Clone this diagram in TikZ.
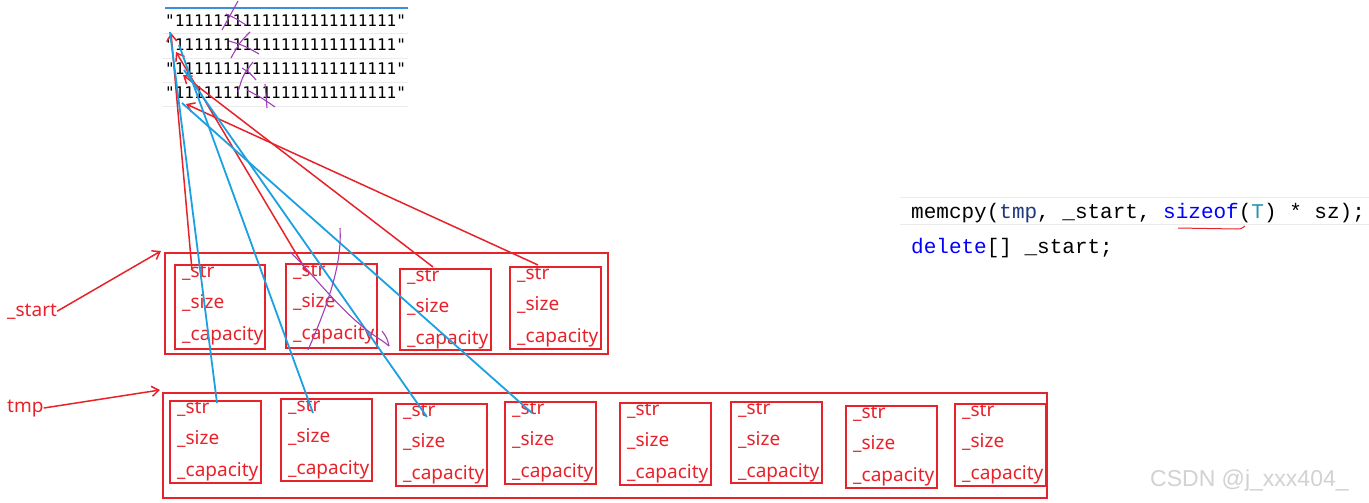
\documentclass[tikz,border=0pt]{standalone}
\usepackage{fontspec}
\setmainfont{Noto Sans}
\newfontfamily\strfont{DejaVu Sans Mono}
\newfontfamily\codefont{Liberation Mono}
\newfontfamily\wmfont{Liberation Sans}
\usetikzlibrary{arrows.meta,calc}
\definecolor{rd}{HTML}{E8222A}
\definecolor{bl}{HTML}{1BA1E2}
\definecolor{topline}{HTML}{3C8FD8}
\definecolor{pu}{HTML}{A040B8}
\definecolor{navy}{HTML}{1F377F}
\definecolor{kw}{HTML}{0000FF}
\definecolor{tc}{HTML}{2B91AF}
\definecolor{sep}{HTML}{EBEBEB}
\definecolor{wm}{HTML}{D2D2D2}
\begin{document}
\begin{tikzpicture}[x=1pt,y=-1pt,
  cellbox/.style={draw=rd, line width=1.8pt, anchor=north west, inner sep=0pt},
  outerbox/.style={draw=rd, line width=1.8pt, anchor=north west, inner sep=0pt},
  lbl/.style={text=rd, font=\fontsize{19}{19}\selectfont, anchor=base west, inner sep=0pt},
  strrow/.style={font=\strfont\fontsize{16}{16}\selectfont, anchor=base west, inner sep=0pt},
  code/.style={font=\codefont\fontsize{21}{21}\selectfont, anchor=base west, inner sep=0pt},
  redln/.style={draw=rd, line width=1.5pt, -{Straight Barb[length=7pt,width=10pt]}},
  blueln/.style={draw=bl, line width=1.8pt},
  purp/.style={draw=pu, line width=1.1pt},
  sepln/.style={draw=sep, line width=0.8pt}
]
\useasboundingbox[fill=white] (0,0) rectangle (1369,503);

% string rows
\draw[draw=topline, line width=1.2pt] (165,8) -- (408,8);
\foreach \yy in {33,58,82,106} { \draw[sepln] (163,\yy) -- (408,\yy); }
\node[strrow] (r1) at (165,27) {"11111111111111111111111"};
\node[strrow] (r2) at (165,51) {"11111111111111111111111"};
\node[strrow] (r3) at (165,75) {"11111111111111111111111"};
\node[strrow] (r4) at (165,99) {"11111111111111111111111"};

% outer boxes
\node[outerbox, minimum width=443pt, minimum height=101pt] (sa) at (164,252) {};
\node[outerbox, minimum width=884pt, minimum height=105pt] (ta) at (162,392) {};

% cells
\foreach \n/\x/\y/\w/\h in {a1/174/264/90/84, a2/285/263/91/84, a3/399/268/91/81, a4/509/266/91/82,
  t1/169/400/91/82, t2/280/398/91/82, t3/395/403/91/82, t4/504/401/91/82,
  t5/619/402/91/82, t6/730/401/91/81, t7/845/405/91/82, t8/954/403/91/82} {
  \node[cellbox, minimum width=\w pt, minimum height=\h pt] (\n) at (\x,\y) {};
  \node[lbl] (\n-s) at ($(\n.north west)+(8,13)$) {\_str};
  \node[lbl] (\n-z) at ($(\n.north west)+(8,44)$) {\_size};
  \node[lbl] (\n-c) at ($(\n.north west)+(8,76)$) {\_capacity};
}

% labels
\node[lbl] (startlbl) at (7,316) {\_start};
\node[lbl] (tmplbl) at (7,412) {tmp};
\draw[redln] (startlbl.east) -- ($(sa.north west)+(-3,-1)$);
\draw[redln] (tmplbl.east) -- ($(ta.north west)+(-2,-2)$);

% string anchor points
\coordinate (e1) at (171,33);
\coordinate (e2) at (176,52);
\coordinate (e3) at (183,75);
\coordinate (e4) at (186,104);
\coordinate (f1) at (170,32);
\coordinate (f2) at (179,45);
\coordinate (f3) at (184,70);
\coordinate (f4) at (182,103);

% cell pointer points
\coordinate (p1) at ($(a1.north west)+(18,6)$);
\coordinate (p2) at ($(a2.north west)+(22,9)$);
\coordinate (p3) at ($(a3.north west)+(34,-1)$);
\coordinate (p4) at ($(a4.north west)+(29,-1)$);
\coordinate (q1) at ($(t1.north west)+(48,3)$);
\coordinate (q2) at ($(t2.north west)+(33,15)$);
\coordinate (q3) at ($(t3.north west)+(32,14)$);
\coordinate (q4) at ($(t4.north west)+(28,12)$);

% red connectors (_start cells -> strings)
\draw[redln] (p1) -- (e1);
\draw[redln] (p2) -- (e2);
\draw[redln] (p3) -- (e3);
\draw[redln] (p4) -- (e4);

% blue connectors (strings -> tmp cells)
\draw[blueln] (f1) -- (q1);
\draw[blueln] (f2) -- (q2);
\draw[blueln] (f3) -- (q3);
\draw[blueln] (f4) -- (q4);

% purple scribbles
\draw[purp] (238,1) .. controls (232,12) .. (222,30);
\draw[purp] (226,14) .. controls (235,18) .. (246,25);
\draw[purp] (250,32) .. controls (240,42) .. (231,58);
\draw[purp] (229,41) .. controls (245,46) .. (259,54);
\draw[purp] (253,62) .. controls (243,75) .. (238,92);
\draw[purp] (242,68) .. controls (250,73) .. (256,80);
\draw[purp] (265,84) .. controls (266,95) .. (267,108);
\draw[purp] (247,90) .. controls (262,98) .. (275,107);
\draw[purp] (340,228) .. controls (342,262) and (330,300) .. (308,350);
\draw[purp] (290,252) .. controls (310,270) and (340,312) .. (375,336) .. controls (384,342) .. (389,346);
\draw[purp] (382,331) .. controls (387,338) .. (389,346);

% code
\draw[sepln] (900,197) -- (1369,197);
\draw[sepln] (900,224) -- (1369,224);
\node[code] (c1) at (911,218) {memcpy(\textcolor{navy}{tmp}, \_start, \textcolor{kw}{sizeof}(\textcolor{tc}{T}) * sz);};
\node[code] (c2) at (911,253) {\textcolor{kw}{delete}[] \_start;};
\draw[rd, line width=1pt] (1178,228) -- (1236,229) .. controls (1241,229) .. (1245,226);

% watermark
\node[font=\wmfont\fontsize{23}{23}\selectfont, text=wm, anchor=base west, inner sep=0pt] (wmk) at (1150,486) {CSDN @j\_xxx404\_};
\end{tikzpicture}
\end{document}
